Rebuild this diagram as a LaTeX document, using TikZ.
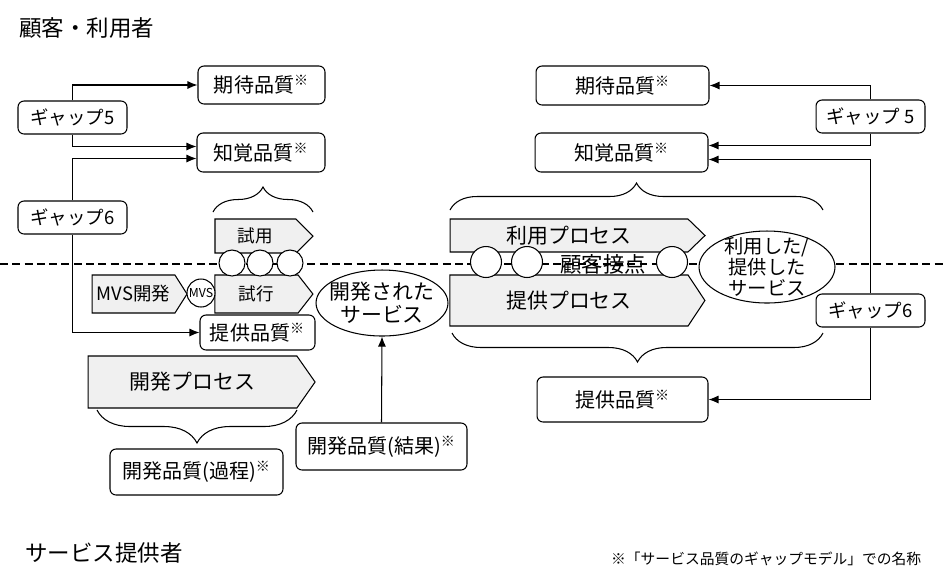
\documentclass[tikz,border=0pt]{standalone}
\usepackage{fontspec}
\setmainfont{Noto Sans CJK JP}
\usepackage{tikz}
\usetikzlibrary{shapes,arrows.meta,positioning,calc,decorations.pathreplacing}

\newcommand{\komeji}{\textsuperscript{※}}

\begin{document}
\begin{tikzpicture}[x=0.02cm, y=-0.02cm,
    qbox/.style={draw, rounded corners=1.2mm, line width=0.6pt, fill=white, inner sep=0pt,
      font=\fontsize{11.4}{13}\selectfont},
    gapbox/.style={qbox, minimum width=2.18cm, minimum height=0.66cm,
      font=\fontsize{10.5}{12}\selectfont},
    procshape/.style={draw, shape=signal, signal to=east, signal from=nowhere, fill=gray!12,
      line width=0.6pt, inner sep=0pt},
    tpoint/.style={circle, draw, fill=white, line width=0.6pt, inner sep=0pt, minimum size=#1},
    svc/.style={ellipse, draw, fill=white, line width=0.6pt, inner sep=0pt},
    conn/.style={-{Latex[length=2mm,width=1.6mm]}, line width=0.6pt},
    bracepath/.style={decorate, decoration={brace, amplitude=#1}, line width=0.6pt}
  ]
  \useasboundingbox (0,0) rectangle (945,583);

  % Sides
  \node[anchor=west, font=\fontsize{12.8}{14}\selectfont] (custTitle) at (13,28) {顧客・利用者};
  \node[anchor=west, font=\fontsize{12.8}{14}\selectfont] (provTitle) at (19,553) {サービス提供者};
  \node[anchor=west, font=\fontsize{8.4}{10}\selectfont] (footnote) at (605,559) {※「サービス品質のギャップモデル」での名称};

  % Boundary line
  \draw[line width=0.6pt, dash pattern=on 4.5pt off 2.5pt] (0,264) -- (945,264);

  % Left: trial / development
  \node[procshape, minimum width=1.96cm, minimum height=0.68cm, signal pointer angle=90,
    font=\fontsize{10}{12}\selectfont] (shiyo) at (255.5,236) {試用};
  \node[procshape, minimum width=1.96cm, minimum height=0.76cm, signal pointer angle=104,
    font=\fontsize{10}{12}\selectfont] (shiko) at (256.5,294) {試行};
  \node[procshape, minimum width=1.9cm, minimum height=0.76cm, signal pointer angle=115,
    font=\fontsize{10.5}{12}\selectfont] (mvsDev) at (133.5,294) {MVS開発};
  \node[procshape, minimum width=4.54cm, minimum height=1.04cm, signal pointer angle=110,
    font=\fontsize{11.9}{13}\selectfont] (devProc) at (192.5,382) {開発プロセス};

  \node[tpoint=0.52cm] (tpA1) at (232,263) {};
  \node[tpoint=0.52cm] (tpA2) at (260,263) {};
  \node[tpoint=0.52cm] (tpA3) at (290,263) {};
  \node[tpoint=0.56cm, font=\fontsize{7}{8}\selectfont] (mvs) at (201,293) {MVS};

  \node[svc, minimum width=2.64cm, minimum height=1.32cm] (devSvc) at (382,303) {};
  \node[align=center, font=\fontsize{11.9}{13}\selectfont] (devSvcText) at (devSvc) {開発された\\サービス};

  % Right: use / provision
  \node[procshape, minimum width=5.1cm, minimum height=0.66cm, signal pointer angle=88,
    font=\fontsize{11.9}{13}\selectfont] (useProc) at (569,235.5) {利用プロセス};
  \node[procshape, minimum width=5.1cm, minimum height=1.02cm, signal pointer angle=113,
    font=\fontsize{11.9}{13}\selectfont] (provProc) at (569,300.5) {提供プロセス};

  \node[tpoint=0.62cm] (tpB1) at (486,262) {};
  \node[tpoint=0.62cm] (tpB2) at (527,262) {};
  \node[tpoint=0.62cm] (tpB3) at (672,262) {};
  \node[font=\fontsize{12.2}{13}\selectfont] (contact) at (603,264) {顧客接点};

  \node[svc, minimum width=2.72cm, minimum height=1.44cm] (usedSvc) at (767,267) {};
  \node[align=center, font=\fontsize{11}{12}\selectfont] (usedSvcText) at (usedSvc) {利用した/\\提供した\\サービス};

  % Quality boxes
  \node[qbox, minimum width=2.54cm, minimum height=0.76cm] (kitaiL) at (261.5,85) {期待品質\komeji};
  \node[qbox, minimum width=2.56cm, minimum height=0.78cm] (chikakuL) at (261,152.5) {知覚品質\komeji};
  \node[qbox, minimum width=2.3cm, minimum height=0.7cm] (teikyoL) at (257.5,332.5) {提供品質\komeji};
  \node[qbox, minimum width=3.46cm, minimum height=0.92cm] (kateiQ) at (196.5,472) {開発品質(過程)\komeji};
  \node[qbox, minimum width=3.42cm, minimum height=0.94cm] (kekkaQ) at (381.5,446.5) {開発品質(結果)\komeji};
  \node[qbox, minimum width=3.46cm, minimum height=0.78cm] (kitaiR) at (622.5,85.5) {期待品質\komeji};
  \node[qbox, minimum width=3.46cm, minimum height=0.78cm] (chikakuR) at (621.5,152.5) {知覚品質\komeji};
  \node[qbox, minimum width=3.42cm, minimum height=0.9cm] (teikyoR) at (622.5,399.5) {提供品質\komeji};

  % Gaps
  \node[gapbox] (gap5L) at (72.5,117.5) {ギャップ5};
  \node[gapbox] (gap6L) at (72.5,217.5) {ギャップ6};
  \node[gapbox] (gap5R) at (870.5,116.5) {ギャップ 5};
  \node[gapbox] (gap6R) at (870.5,310.5) {ギャップ6};

  % Braces
  \draw[bracepath=0.5cm] (213,212) -- (313,212);
  \draw[bracepath=0.66cm] (297,410) -- (97,410);
  \draw[bracepath=0.54cm] (450,210) -- (823,210);
  \draw[bracepath=0.58cm] (823,333) -- (452,333);

  % Arrows
  \draw[conn] (gap5L.north) |- (kitaiL.west);
  \draw[conn] (gap5L.south) |- ($(chikakuL.west)+(0,-6)$);
  \draw[conn] (gap6L.north) |- ($(chikakuL.west)+(0,6)$);
  \draw[conn] (gap6L.south) |- (teikyoL.west);
  \draw[conn] (kekkaQ.north) -- (devSvc.south);
  \draw[conn] (gap5R.north) |- (kitaiR.east);
  \draw[conn] (gap5R.south) |- ($(chikakuR.east)+(0,-7)$);
  \draw[conn] (gap6R.north) |- ($(chikakuR.east)+(0,7)$);
  \draw[conn] (gap6R.south) |- (teikyoR.east);
\end{tikzpicture}
\end{document}
